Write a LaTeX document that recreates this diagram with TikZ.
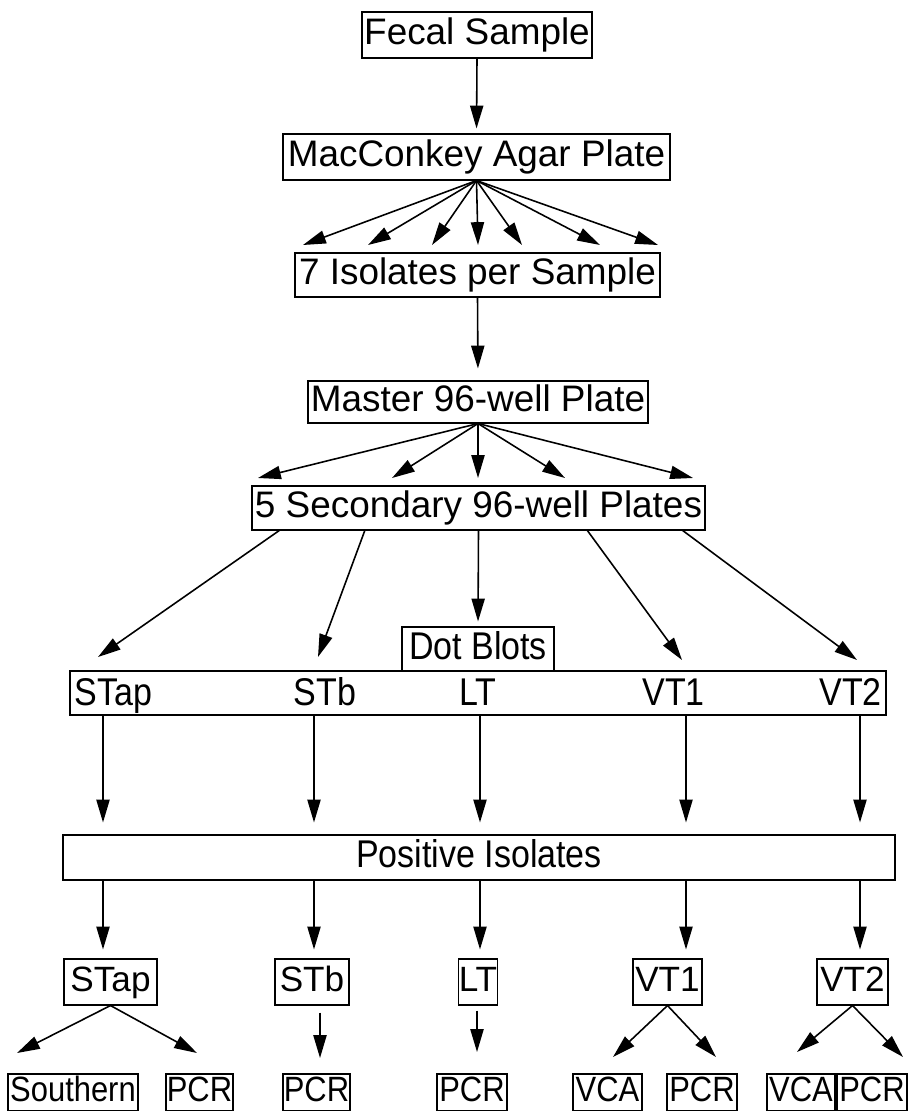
\documentclass[tikz,border=0pt]{standalone}
\usepackage{fontspec}
\setmainfont{Liberation Sans}
\newfontfamily\slimsans[FakeStretch=0.88]{Liberation Sans}
\usetikzlibrary{arrows.meta,positioning}
\newlength{\pxu}
\setlength{\pxu}{0.02cm}

\begin{document}
\begin{tikzpicture}[x=0.02cm,y=-0.02cm,
    font=\fontsize{21}{24}\selectfont,
    box/.style={draw,line width=0.6pt,inner sep=0pt,text height=15.5pt,text depth=4.5pt},
    mid/.style={font=\slimsans\fontsize{22}{25}\selectfont,text height=16pt,text depth=4.6pt},
    tag/.style={box,font=\fontsize{20}{23}\selectfont,text height=14.5pt,text depth=4.2pt},
    leaf/.style={box,font=\slimsans\fontsize{20}{23}\selectfont,text height=14.5pt,text depth=4.2pt},
    fl/.style={-{Triangle[length=13pt,width=7.5pt]},line width=0.9pt}]
  \useasboundingbox (0,0) rectangle (908,1111);
  % upper chain
  \node[box,minimum width=230\pxu,minimum height=46\pxu] (fecal) at (477,35) {Fecal Sample};
  \node[box,minimum width=387\pxu,minimum height=46\pxu] (mac) at (476.5,157) {MacConkey Agar Plate};
  \node[box,minimum width=365\pxu,minimum height=44\pxu] (iso) at (477.5,275) {7 Isolates per Sample};
  \node[box,minimum width=340\pxu,minimum height=42\pxu] (master) at (478,402) {Master 96-well Plate};
  \node[box,minimum width=453\pxu,minimum height=44\pxu] (sec) at (478.5,508) {5 Secondary 96-well Plates};
  \node[box,mid,minimum width=152\pxu,minimum height=44\pxu] (dot) at (478,649) {Dot Blots};
  \node[box,minimum width=816\pxu,minimum height=44\pxu] (row) at (478,693) {};
  \node[mid,anchor=base,inner sep=0pt] (rSTap) at (113.5,705) {STap};
  \node[mid,anchor=base,inner sep=0pt] (rSTb) at (325,705) {STb};
  \node[mid,anchor=base,inner sep=0pt] (rLT) at (478,705) {LT};
  \node[mid,anchor=base,inner sep=0pt] (rVT1) at (673.5,705) {VT1};
  \node[mid,anchor=base,inner sep=0pt] (rVT2) at (850.5,705) {VT2};
  \node[box,mid,minimum width=832\pxu,minimum height=45\pxu] (pos) at (479,857.5) {Positive Isolates};
  % confirmed toxin types
  \node[tag,minimum width=93\pxu,minimum height=46\pxu] (cSTap) at (110.5,982) {STap};
  \node[tag,minimum width=74\pxu,minimum height=46\pxu] (cSTb) at (312,982) {STb};
  \node[tag,minimum width=38\pxu,minimum height=46\pxu] (cLT) at (478,982) {LT};
  \node[tag,minimum width=69\pxu,minimum height=46\pxu] (cVT1) at (667.5,982) {VT1};
  \node[tag,minimum width=71\pxu,minimum height=46\pxu] (cVT2) at (852.5,982) {VT2};
  % assays
  \node[leaf,minimum width=130\pxu,minimum height=37\pxu] (southern) at (73,1092.5) {Southern};
  \node[leaf,minimum width=67\pxu,minimum height=37\pxu] (pcrA) at (199.5,1092.5) {PCR};
  \node[leaf,minimum width=67\pxu,minimum height=37\pxu] (pcrB) at (316.5,1092.5) {PCR};
  \node[leaf,minimum width=70\pxu,minimum height=37\pxu] (pcrC) at (472,1092.5) {PCR};
  \node[leaf,minimum width=69\pxu,minimum height=37\pxu] (vcaD) at (607.5,1092.5) {VCA};
  \node[leaf,minimum width=70\pxu,minimum height=37\pxu] (pcrD) at (702,1092.5) {PCR};
  \node[leaf,minimum width=68\pxu,minimum height=37\pxu] (vcaE) at (801,1092.5) {VCA};
  \node[leaf,minimum width=70\pxu,minimum height=37\pxu] (pcrE) at (872,1092.5) {PCR};

  \draw[fl,shorten >=5\pxu] (fecal.south) -- (mac.north);
  \foreach \x [count=\i] in {303,368,432,478,522,600,658}
    \coordinate (mt\i) at (\x,245);
  \foreach \i in {1,...,7} \draw[fl] (mac.south) -- (mt\i);
  \draw[fl,shorten >=12\pxu] (iso.south) -- (master.north);
  \foreach \x [count=\i] in {258,392,478,565,693}
    \coordinate (st\i) at (\x,478);
  \foreach \i in {1,...,5} \draw[fl] (master.south) -- (st\i);
  \foreach \a/\b/\c [count=\i] in {280/98/657,365/318/657,587/682/660,682/857/660}{
    \coordinate (sa\i) at (\a,530);
    \coordinate (sb\i) at (\b,\c);
    \draw[fl] (sa\i) -- (sb\i);}
  \draw[fl,shorten >=5\pxu] (sec.south) -- (dot.north);
  \foreach \n/\x in {1/103,2/314,3/480,4/686,5/860}
    \coordinate (col\n) at (\x,0);
  \foreach \n in {1,...,5}{
    \draw[fl,shorten >=12\pxu] (row.south -| col\n) -- (pos.north -| col\n);}
  \foreach \n/\c in {1/cSTap,2/cSTb,3/cLT,4/cVT1,5/cVT2}{
    \draw[fl,shorten >=9\pxu] (pos.south -| col\n) -- (\c.north -| col\n);}
  % bottom fans
  \coordinate (fa) at (17,1053);
  \coordinate (fb) at (197,1053);
  \coordinate (fc) at (320,1058);
  \coordinate (fd) at (477,1052);
  \coordinate (fe) at (613,1057);
  \coordinate (ff) at (716,1057);
  \coordinate (fg) at (797,1052);
  \coordinate (fh) at (903,1057);
  \draw[fl] (cSTap.south) -- (fa);
  \draw[fl] (cSTap.south) -- (fb);
  \draw[fl,shorten <=7\pxu] (cSTb.south -| fc) -- (fc);
  \draw[fl,shorten <=5\pxu] (cLT.south -| fd) -- (fd);
  \draw[fl] (cVT1.south) -- (fe);
  \draw[fl] (cVT1.south) -- (ff);
  \draw[fl] (cVT2.south) -- (fg);
  \draw[fl] (cVT2.south) -- (fh);
\end{tikzpicture}
\end{document}
